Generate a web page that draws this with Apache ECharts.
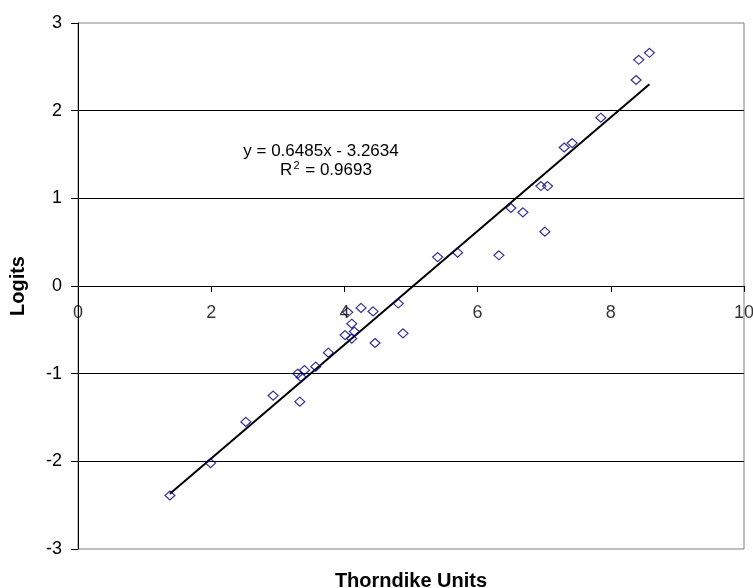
<!DOCTYPE html>
<html>
<head>
<meta charset="utf-8">
<script src="https://cdn.jsdelivr.net/npm/echarts@6/dist/echarts.min.js"></script>
<style>
html,body{margin:0;padding:0;background:#fff;}
#chart{width:753px;height:588px;}
</style>
</head>
<body>
<div id="chart"></div>
<script>
// Data
var thorndikeX = [8.58, 8.42, 8.38, 7.85, 7.30, 7.42, 6.95, 7.05, 6.50, 6.68, 7.01, 5.40, 5.70, 6.32,
  4.81, 4.25, 4.43, 4.05, 4.11, 4.15, 4.01, 4.11, 4.88, 4.46, 3.76, 3.57, 3.40, 3.30, 3.35, 3.33,
  2.93, 2.52, 1.99, 1.38];
var logitsY = [2.66, 2.58, 2.35, 1.92, 1.58, 1.63, 1.14, 1.14, 0.89, 0.84, 0.62, 0.33, 0.38, 0.35,
  -0.20, -0.25, -0.29, -0.30, -0.43, -0.52, -0.56, -0.60, -0.54, -0.65, -0.76, -0.92, -0.96, -1.00, -1.04, -1.32,
  -1.25, -1.55, -2.02, -2.39];
var trendSlope = 0.6485;
var trendIntercept = -3.2634;
var rSquared = 0.9693;
var xTicks = [0, 2, 4, 6, 8, 10];
var yTicks = [-3, -2, -1, 0, 1, 2, 3];
var xTitle = 'Thorndike Units';
var yTitle = 'Logits';

var points = thorndikeX.map(function (x, i) { return [x, logitsY[i]]; });
var xMin = Math.min.apply(null, thorndikeX);
var xMax = Math.max.apply(null, thorndikeX);
var trend = [[xMin, trendSlope * xMin + trendIntercept], [xMax, trendSlope * xMax + trendIntercept]];
// x tick labels sit on the y = 0 axis line
var xTickAnchors = xTicks.map(function (v) { return [v, 0]; });

var font = '"Liberation Sans", Arial, sans-serif';
var chart = echarts.init(document.getElementById('chart'), null, {renderer: 'canvas'});
chart.setOption({
  animation: false,
  backgroundColor: '#ffffff',
  grid: {left: 78, top: 23, width: 666, height: 526, show: true, borderColor: '#808080', borderWidth: 1, backgroundColor: 'transparent'},
  xAxis: {
    type: 'value', min: xTicks[0], max: xTicks[xTicks.length - 1], interval: 2,
    axisLine: {show: true, onZero: true, onZeroAxisIndex: 0, lineStyle: {color: '#000', width: 1}},
    axisTick: {show: true, inside: false, length: 6, lineStyle: {color: '#000'}},
    axisLabel: {show: false},
    splitLine: {show: false}
  },
  yAxis: {
    type: 'value', min: yTicks[0], max: yTicks[yTicks.length - 1], interval: 1,
    name: yTitle, nameLocation: 'middle', nameGap: 50, nameRotate: 90,
    nameTextStyle: {fontFamily: font, fontWeight: 'bold', fontSize: 20, color: '#000'},
    axisLine: {show: true, onZero: false, lineStyle: {color: '#000', width: 1}},
    axisTick: {show: true, length: 7, lineStyle: {color: '#000'}},
    axisLabel: {fontFamily: font, fontSize: 18, color: '#000', margin: 16},
    splitLine: {show: true, showMinLine: false, showMaxLine: false, lineStyle: {color: '#000', width: 1}}
  },
  series: [
    {
      type: 'scatter', data: points, symbol: 'diamond', symbolSize: [10, 9],
      itemStyle: {color: 'rgba(0,0,0,0)', borderColor: '#000080', borderWidth: 1.2}, z: 3
    },
    {
      type: 'line', data: trend, symbol: 'none', lineStyle: {color: '#000', width: 2}, z: 2
    },
    {
      type: 'scatter', data: xTickAnchors, symbolSize: 0, silent: true, z: 4,
      label: {show: true, position: 'bottom', distance: 18, fontFamily: font, fontSize: 18, color: '#000',
        formatter: function (p) { return String(p.value[0]); }}
    }
  ],
  graphic: [
    {type: 'text', x: 321, y: 151, style: {text: 'y = ' + trendSlope + 'x - ' + Math.abs(trendIntercept), font: '17px ' + font, fill: '#000', textAlign: 'center', textVerticalAlign: 'middle'}},
    {type: 'text', x: 326, y: 170, style: {text: 'R{sup|2} = ' + rSquared, font: '17px ' + font, fill: '#000', textAlign: 'center', textVerticalAlign: 'middle',
      rich: {sup: {fontSize: 11, fontFamily: font, verticalAlign: 'top', padding: [0, 1, 9, 1], fill: '#000'}}}},
    {type: 'text', x: 411, y: 591, style: {text: xTitle, font: 'bold 20px ' + font, fill: '#000', textAlign: 'center', textVerticalAlign: 'bottom'}}
  ]
});
</script>
</body>
</html>
